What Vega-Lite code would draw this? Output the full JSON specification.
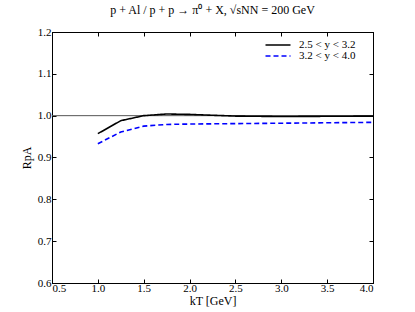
{
  "$schema": "https://vega.github.io/schema/vega-lite/v6.json",
  "width": 321,
  "height": 251,
  "autosize": "none",
  "padding": {"left": 52, "top": 32, "right": 42, "bottom": 29},
  "background": "white",
  "config": {
    "font": "Liberation Serif",
    "view": {"stroke": "black", "strokeWidth": 1},
    "axis": {"grid": false, "domainColor": "black", "tickColor": "black", "labelColor": "black", "titleColor": "black", "labelFont": "Liberation Serif", "titleFont": "Liberation Serif", "labelFontSize": 11, "titleFontSize": 12, "titleFontWeight": "normal", "tickSize": -4, "labelPadding": 5}
  },
  "title": {"text": "p + Al / p + p → π⁰ + X, √sNN = 200 GeV", "fontSize": 12, "fontWeight": "normal", "font": "Liberation Serif", "color": "black", "offset": 9},
  "datasets": {
    "curves": [
      {"kT": 1.0, "R": 0.957, "series": "2.5 < y < 3.2"},
      {"kT": 1.25, "R": 0.988, "series": "2.5 < y < 3.2"},
      {"kT": 1.5, "R": 1.0, "series": "2.5 < y < 3.2"},
      {"kT": 1.75, "R": 1.004, "series": "2.5 < y < 3.2"},
      {"kT": 2.0, "R": 1.003, "series": "2.5 < y < 3.2"},
      {"kT": 2.5, "R": 0.999, "series": "2.5 < y < 3.2"},
      {"kT": 3.0, "R": 0.998, "series": "2.5 < y < 3.2"},
      {"kT": 4.0, "R": 0.999, "series": "2.5 < y < 3.2"},
      {"kT": 1.0, "R": 0.933, "series": "3.2 < y < 4.0"},
      {"kT": 1.25, "R": 0.961, "series": "3.2 < y < 4.0"},
      {"kT": 1.5, "R": 0.975, "series": "3.2 < y < 4.0"},
      {"kT": 1.75, "R": 0.979, "series": "3.2 < y < 4.0"},
      {"kT": 2.0, "R": 0.980, "series": "3.2 < y < 4.0"},
      {"kT": 2.5, "R": 0.981, "series": "3.2 < y < 4.0"},
      {"kT": 3.0, "R": 0.982, "series": "3.2 < y < 4.0"},
      {"kT": 4.0, "R": 0.984, "series": "3.2 < y < 4.0"}
    ],
    "ref": [{"R": 1.0}]
  },
  "layer": [
    {
      "data": {"name": "ref"},
      "mark": {"type": "rule", "color": "#555555", "strokeWidth": 1},
      "encoding": {
        "y": {"field": "R", "type": "quantitative", "scale": {"domain": [0.6, 1.2], "nice": false, "zero": false}, "axis": {"orient": "right", "labels": false, "title": null, "values": [0.6, 0.7, 0.8, 0.9, 1.0, 1.1, 1.2]}}
      }
    },
    {
      "data": {"name": "ref"},
      "mark": {"type": "point", "opacity": 0},
      "encoding": {
        "x": {"datum": 2.0, "type": "quantitative", "scale": {"domain": [0.5, 4.0], "nice": false, "zero": false}, "axis": {"orient": "top", "labels": false, "title": null, "values": [0.5, 1.0, 1.5, 2.0, 2.5, 3.0, 3.5, 4.0]}}
      }
    },
    {
      "data": {"name": "curves"},
      "mark": {"type": "line", "strokeWidth": 1.6},
      "encoding": {
        "x": {"field": "kT", "type": "quantitative", "scale": {"domain": [0.5, 4.0], "nice": false, "zero": false}, "axis": {"orient": "bottom", "title": "kT [GeV]", "format": ".1f", "values": [0.5, 1.0, 1.5, 2.0, 2.5, 3.0, 3.5, 4.0], "titlePadding": 2, "labelPadding": 3}},
        "y": {"field": "R", "type": "quantitative", "scale": {"domain": [0.6, 1.2], "nice": false, "zero": false}, "axis": {"orient": "left", "title": "RpA", "format": ".1f", "values": [0.6, 0.7, 0.8, 0.9, 1.0, 1.1, 1.2], "titlePadding": 4}},
        "color": {"field": "series", "type": "nominal", "scale": {"domain": ["2.5 < y < 3.2", "3.2 < y < 4.0"], "range": ["black", "#0000ff"]}, "legend": {"orient": "none", "legendX": 220, "legendY": 7, "padding": 0, "title": null, "symbolType": "M-2.5,0H2.5", "symbolSize": 100, "symbolStrokeWidth": 1.6, "labelFontSize": 11, "labelFont": "Liberation Serif", "rowPadding": 0, "labelOffset": 15}},
        "strokeDash": {"field": "series", "type": "nominal", "scale": {"domain": ["2.5 < y < 3.2", "3.2 < y < 4.0"], "range": [[1, 0], [5, 3]]}, "legend": {"orient": "none", "legendX": 220, "legendY": 7, "padding": 0, "title": null, "symbolType": "M-2.5,0H2.5", "symbolSize": 100, "symbolStrokeWidth": 1.6, "labelFontSize": 11, "labelFont": "Liberation Serif", "rowPadding": 0, "labelOffset": 15}}
      }
    }
  ],
  "resolve": {"axis": {"x": "independent", "y": "independent"}}
}
